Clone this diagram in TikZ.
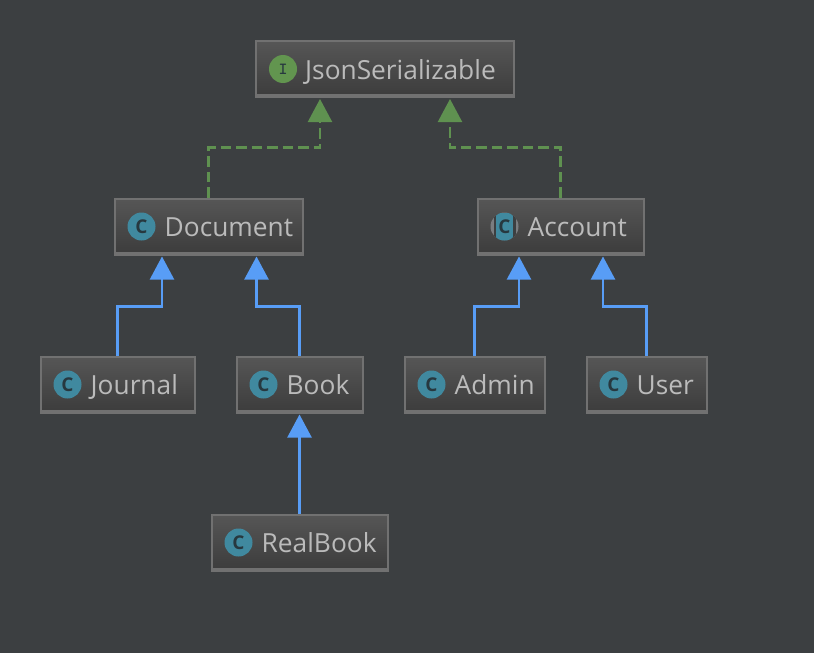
\documentclass[tikz,border=0pt]{standalone}
\usepackage{fontspec}
\setmainfont{Open Sans}
\usetikzlibrary{arrows.meta, positioning}
\definecolor{paneBg}{HTML}{3C3F41}
\definecolor{boxTop}{HTML}{565656}
\definecolor{boxBottom}{HTML}{3C3C3C}
\definecolor{boxLine}{HTML}{717171}
\definecolor{labelGray}{HTML}{BBBBBB}
\definecolor{implGreen}{HTML}{5F9150}
\definecolor{extendBlue}{HTML}{589DF6}
\definecolor{iconBlue}{HTML}{40899F}
\definecolor{iconGreen}{HTML}{62954F}
\definecolor{iconInk}{HTML}{27383F}
\definecolor{iconGray}{HTML}{7A7D80}
\tikzset{
	classbox/.style={draw=boxLine, line width=2pt, top color=boxTop, bottom color=boxBottom, minimum height=56pt, inner sep=0pt, path picture={
		\fill[boxLine] ([yshift=3pt]path picture bounding box.south west) rectangle (path picture bounding box.south east);
	}},
	classlabel/.style={anchor=base west, text=labelGray, inner sep=0pt, font=\fontsize{26.3}{30}\selectfont},
	classicon/.style={circle, fill=iconBlue, minimum size=28pt, inner sep=0pt, text=iconInk, font=\fontsize{19}{19}\selectfont\bfseries},
	implements/.style={draw=implGreen, line width=2.2pt, dash pattern=on 10.5pt off 5pt, -{Triangle[width=24pt,length=23pt,fill=implGreen,sep=1pt]}},
	extends/.style={draw=extendBlue, line width=2.2pt, -{Triangle[width=24pt,length=23pt,fill=extendBlue,sep=1pt]}}
}
\begin{document}
\begin{tikzpicture} [x=1pt, y=1pt, on grid]
	\fill[paneBg] (0,0) rectangle (814,-653);
	\useasboundingbox (0,0) rectangle (814,-653);
	% top row
	\node[classbox, minimum width=258pt] (JsonSerializable) at (385,-69) {};
	\node[classicon, fill=iconGreen, font=\fontsize{17}{17}\selectfont\ttfamily\bfseries] (JsonIcon) at ([xshift=28pt]JsonSerializable.west) {I};
	\node[classlabel] (JsonLabel) at ([xshift=22pt,yshift=-10pt]JsonIcon.center) {JsonSerializable};
	% second row
	\node[classbox, minimum width=188pt] (Document) [below left=157.5pt and 176.5pt of JsonSerializable] {};
	\node[classicon] (DocumentIcon) at ([xshift=28pt]Document.west) {C};
	\node[classlabel] (DocumentLabel) at ([xshift=23pt,yshift=-10pt]DocumentIcon.center) {Document};
	\node[classbox, minimum width=166pt] (Account) [below right=157.5pt and 175.5pt of JsonSerializable] {};
	\node[classicon, fill=iconGray, path picture={
		\fill[paneBg] ([xshift=-11pt]path picture bounding box.north) rectangle ([xshift=11pt]path picture bounding box.south);
		\fill[iconBlue] ([xshift=-8.5pt]path picture bounding box.north) rectangle ([xshift=8.5pt]path picture bounding box.south);
	}] (AccountIcon) at ([xshift=28pt]Account.west) {C};
	\node[classlabel] (AccountLabel) at ([xshift=23pt,yshift=-10pt]AccountIcon.center) {Account};
	% third row
	\node[classbox, minimum width=154pt] (Journal) [below left=158pt and 91pt of Document] {};
	\node[classicon] (JournalIcon) at ([xshift=28pt]Journal.west) {C};
	\node[classlabel] (JournalLabel) at ([xshift=23pt,yshift=-10pt]JournalIcon.center) {Journal};
	\node[classbox, minimum width=126pt] (Book) [below right=158pt and 91pt of Document] {};
	\node[classicon] (BookIcon) at ([xshift=28pt]Book.west) {C};
	\node[classlabel] (BookLabel) at ([xshift=23pt,yshift=-10pt]BookIcon.center) {Book};
	\node[classbox, minimum width=140pt] (Admin) [below left=158pt and 86pt of Account] {};
	\node[classicon] (AdminIcon) at ([xshift=28pt]Admin.west) {C};
	\node[classlabel] (AdminLabel) at ([xshift=23pt,yshift=-10pt]AdminIcon.center) {Admin};
	\node[classbox, minimum width=120pt] (User) [below right=158pt and 86pt of Account] {};
	\node[classicon] (UserIcon) at ([xshift=28pt]User.west) {C};
	\node[classlabel] (UserLabel) at ([xshift=23pt,yshift=-10pt]UserIcon.center) {User};
	% last row
	\node[classbox, minimum width=176pt] (RealBook) [below=158pt of Book] {};
	\node[classicon] (RealBookIcon) at ([xshift=28pt]RealBook.west) {C};
	\node[classlabel] (RealBookLabel) at ([xshift=23pt,yshift=-10pt]RealBookIcon.center) {RealBook};
	% connectors
	\draw[implements] (Document.north) -- ++(0,50) -| ([xshift=-65pt]JsonSerializable.south);
	\draw[implements] (Account.north) -- ++(0,50) -| ([xshift=65pt]JsonSerializable.south);
	\draw[extends] (Journal.north) -- ++(0,49) -| ([xshift=-46.5pt]Document.south);
	\draw[extends] (Book.north) -- ++(0,49) -| ([xshift=48pt]Document.south);
	\draw[extends] (Admin.north) -- ++(0,49) -| ([xshift=-41.5pt]Account.south);
	\draw[extends] (User.north) -- ++(0,49) -| ([xshift=42.5pt]Account.south);
	\draw[extends] (RealBook.north) -- (Book.south);
\end{tikzpicture}
\end{document}
